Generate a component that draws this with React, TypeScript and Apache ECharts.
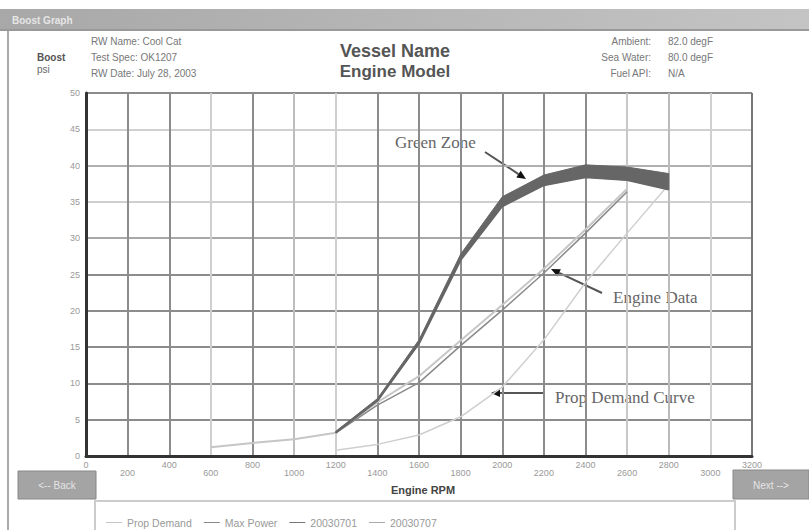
import React, { useEffect, useRef } from "react";
import * as echarts from "echarts";

// ---- data ----
const propRpm = [1200, 1400, 1600, 1800, 2000, 2200, 2400, 2600, 2800];
const propDemand = [0.8, 1.6, 2.9, 5.4, 9.5, 16.0, 23.9, 30.7, 37.4];

const maxRpm = [1200, 1400, 1600, 1800, 2000, 2200, 2400, 2600, 2800];
const maxPowerLow = [3.2, 7.6, 15.5, 27.0, 34.4, 37.3, 38.4, 38.0, 36.7];
const maxPowerHigh = [3.4, 7.9, 16.0, 27.8, 35.7, 38.7, 40.1, 39.8, 38.9];

const run1Rpm = [1200, 1400, 1600, 1800, 2000, 2200, 2400, 2600];
const run1 = [3.2, 7.0, 10.1, 15.2, 20.1, 25.2, 30.7, 36.4];

const run2Rpm = [600, 800, 1000, 1200, 1400, 1600, 1800, 2000, 2200, 2400, 2600];
const run2 = [1.2, 1.8, 2.3, 3.2, 7.4, 11.0, 15.9, 20.8, 25.8, 31.2, 36.8];

const legendNames = ["Prop Demand", "Max Power", "20030701", "20030707"];

const headerLeft = ["RW Name: Cool Cat", "Test Spec: OK1207", "RW Date: July 28, 2003"];
const headerRightLabels = ["Ambient:", "Sea Water:", "Fuel API:"];
const headerRightValues = ["82.0 degF", "80.0 degF", "N/A"];

const xGridColors = ["#888", "#8c8c8c", "#8c8c8c", "#cfcfcf", "#8c8c8c", "#bdbdbd", "#cfcfcf", "#8c8c8c", "#8c8c8c", "#8c8c8c", "#8c8c8c", "#8c8c8c", "#8c8c8c", "#c8c8c8", "#bbbbbb", "#d0d0d0", "#777"];
const yGridColors = ["#888", "#8c8c8c", "#8c8c8c", "#8c8c8c", "#8c8c8c", "#8c8c8c", "#a8a8a8", "#cfcfcf", "#b0b0b0", "#d0d0d0", "#8c8c8c"];

const pairs = (xs: number[], ys: number[]) => xs.map((x, i) => [x, ys[i]]);

function arrow(tail: [number, number], head: [number, number]) {
  const dx = head[0] - tail[0];
  const dy = head[1] - tail[1];
  const len = Math.sqrt(dx * dx + dy * dy);
  const ux = dx / len, uy = dy / len;
  const nx = -uy, ny = ux;
  const bx = head[0] - ux * 9, by = head[1] - uy * 9;
  return [
    { type: "line", shape: { x1: tail[0], y1: tail[1], x2: bx, y2: by }, style: { stroke: "#555", lineWidth: 2 } },
    {
      type: "polygon",
      shape: { points: [[head[0], head[1]], [bx + nx * 4, by + ny * 4], [bx - nx * 4, by - ny * 4]] },
      style: { fill: "#111" },
    },
  ];
}

export default function App() {
  const ref = useRef<HTMLDivElement>(null);
  useEffect(() => {
    if (!ref.current) return;
    const chart = echarts.init(ref.current, undefined, { renderer: "svg" });
    const sans = "'Liberation Sans', Arial, sans-serif";
    const serif = "'Liberation Serif', 'Times New Roman', serif";
    const graphics: any[] = [
      // title bar
      {
        type: "rect", shape: { x: 0, y: 9, width: 809, height: 22 },
        style: { fill: new echarts.graphic.LinearGradient(0, 0, 1, 0, [{ offset: 0, color: "#a8a8a8" }, { offset: 1, color: "#c4c4c4" }]) },
      },
      { type: "rect", shape: { x: 0, y: 29, width: 809, height: 2 }, style: { fill: "#999" } },
      { type: "text", x: 12, y: 20, style: { text: "Boost Graph", font: `bold 10px ${sans}`, fill: "#e6e6e6", verticalAlign: "middle" } },
      // left border
      { type: "rect", shape: { x: 7, y: 31, width: 2, height: 499 }, style: { fill: "#aaa" } },
      // header
      { type: "text", x: 37, y: 57, style: { text: "Boost", font: `bold 10px ${sans}`, fill: "#555", verticalAlign: "middle" } },
      { type: "text", x: 37, y: 69, style: { text: "psi", font: `10px ${sans}`, fill: "#666", verticalAlign: "middle" } },
      ...headerLeft.map((t, i) => ({ type: "text", x: 91, y: 41 + i * 16, style: { text: t, font: `10px ${sans}`, fill: "#777", verticalAlign: "middle" } })),
      ...headerRightLabels.map((t, i) => ({ type: "text", x: 651, y: 41 + i * 16, style: { text: t, font: `10px ${sans}`, fill: "#777", align: "right", verticalAlign: "middle" } })),
      ...headerRightValues.map((t, i) => ({ type: "text", x: 668, y: 41 + i * 16, style: { text: t, font: `10px ${sans}`, fill: "#777", verticalAlign: "middle" } })),
      { type: "text", x: 395, y: 51, style: { text: "Vessel Name", font: `bold 18px ${sans}`, fill: "#555", align: "center", verticalAlign: "middle" } },
      { type: "text", x: 395, y: 71, style: { text: "Engine Model", font: `bold 17px ${sans}`, fill: "#555", align: "center", verticalAlign: "middle" } },
      // annotations
      { type: "text", x: 395, y: 142, style: { text: "Green Zone", font: `17px ${serif}`, fill: "#666", verticalAlign: "middle" } },
      ...arrow([485, 152], [526, 179]),
      { type: "text", x: 613, y: 297, style: { text: "Engine Data", font: `17px ${serif}`, fill: "#666", verticalAlign: "middle" } },
      ...arrow([602, 293], [551, 269]),
      { type: "text", x: 555, y: 397, style: { text: "Prop Demand Curve", font: `17px ${serif}`, fill: "#666", verticalAlign: "middle" } },
      ...arrow([543, 393], [491, 393]),
      // buttons
      { type: "rect", shape: { x: 18, y: 471, width: 78, height: 28 }, style: { fill: "#a4a4a4", stroke: "#888", lineWidth: 1 } },
      { type: "text", x: 57, y: 485, style: { text: "<-- Back", font: `10px ${sans}`, fill: "#e4e4e4", align: "center", verticalAlign: "middle" } },
      { type: "rect", shape: { x: 733, y: 470, width: 76, height: 29 }, style: { fill: "#a4a4a4", stroke: "#888", lineWidth: 1 } },
      { type: "text", x: 771, y: 485, style: { text: "Next -->", font: `10px ${sans}`, fill: "#e4e4e4", align: "center", verticalAlign: "middle" } },
      // legend box
      { type: "rect", shape: { x: 95, y: 501, width: 640, height: 34 }, style: { fill: "none", stroke: "#ccc", lineWidth: 2 } },
    ];

    chart.setOption({
      animation: false,
      backgroundColor: "#fff",
      grid: { left: 86, right: 57, top: 93, bottom: 74 },
      xAxis: {
        type: "value", min: 0, max: 3200, interval: 200,
        name: "Engine RPM", nameLocation: "middle", nameGap: 28,
        nameTextStyle: { fontFamily: sans, fontWeight: "bold", fontSize: 11, color: "#444", padding: [0, 0, 0, 8] },
        axisLine: { show: true, lineStyle: { color: "#333", width: 3 } },
        axisTick: { show: false },
        axisLabel: {
          margin: 3,
          formatter: (v: number) => (v % 400 === 0 ? `{a|${v}}` : `{b|${v}}`),
          rich: {
            a: { fontSize: 9, color: "#999", fontFamily: sans, lineHeight: 12 },
            b: { fontSize: 9, color: "#999", fontFamily: sans, lineHeight: 27 },
          },
        },
        splitLine: { show: true, lineStyle: { color: xGridColors, width: 2 } },
      },
      yAxis: {
        type: "value", min: 0, max: 50, interval: 5,
        axisLine: { show: true, lineStyle: { color: "#333", width: 3 } },
        axisTick: { show: false },
        axisLabel: { fontSize: 9, color: "#999", fontFamily: sans, margin: 6 },
        splitLine: { show: true, lineStyle: { color: yGridColors, width: 2 } },
      },
      legend: {
        data: legendNames,
        left: 101, top: 512,
        itemWidth: 16, itemHeight: 8, itemGap: 12,
        textStyle: { fontSize: 10.5, color: "#999", fontFamily: sans },
        icon: "path://M0,4 L16,4 L16,5 L0,5 Z",
      },
      series: [
        {
          name: "Prop Demand", type: "line", symbol: "none", data: pairs(propRpm, propDemand),
          lineStyle: { color: "#cfcfcf", width: 1.5 }, itemStyle: { color: "#c4c4c4" }, z: 3,
        },
        {
          name: "20030707", type: "line", symbol: "none", data: pairs(run2Rpm, run2),
          lineStyle: { color: "#c6c6c6", width: 2 }, itemStyle: { color: "#aaa" }, z: 3,
        },
        {
          name: "20030701", type: "line", symbol: "none", data: pairs(run1Rpm, run1),
          lineStyle: { color: "#8a8a8a", width: 1.5 }, itemStyle: { color: "#777" }, z: 4,
        },
        {
          name: "Max Power", type: "line", symbol: "none", data: pairs(maxRpm, maxPowerLow),
          lineStyle: { color: "#666", width: 2 }, itemStyle: { color: "#888" }, z: 5,
        },
        {
          name: "Green Zone", type: "custom", z: 5,
          data: [[maxRpm[0], maxPowerLow[0]]],
          renderItem: (_params: any, api: any) => {
            const upper = maxRpm.map((x, i) => api.coord([x, maxPowerHigh[i]]));
            const lower = maxRpm.map((x, i) => api.coord([x, maxPowerLow[i]])).reverse();
            return {
              type: "polygon",
              shape: { points: upper.concat(lower) },
              style: { fill: "#666", stroke: "#666", lineWidth: 1 },
            };
          },
        },
      ],
      graphic: graphics,
    });
    return () => chart.dispose();
  }, []);
  return <div ref={ref} style={{ position: "fixed", left: 0, top: 0, width: 809, height: 530 }} />;
}
